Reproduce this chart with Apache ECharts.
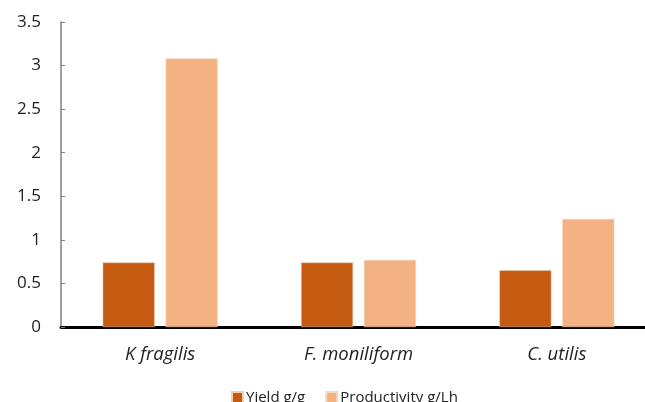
<!DOCTYPE html>
<html><head><meta charset="utf-8">
<script src="https://cdn.jsdelivr.net/npm/echarts@6/dist/echarts.min.js"></script>
<style>html,body{margin:0;padding:0;background:#fff}#c{width:645px;height:402px}</style>
</head><body><div id="c"></div>
<script>
const categories = ['K fragilis', 'F. moniliform', 'C. utilis'];
const yieldValues = [0.74, 0.74, 0.65];
const productivityValues = [3.08, 0.77, 1.24];
const seriesNames = ['Yield g/g', 'Productivity g/Lh'];
const font = "'Open Sans', 'Noto Sans', sans-serif";
const chart = echarts.init(document.getElementById('c'));
chart.setOption({
  animation: false,
  textStyle: { fontFamily: font },
  grid: { left: 61, top: 22, width: 595, height: 305, containLabel: false, outerBoundsMode: 'none' },
  legend: {
    top: 385, left: 226, itemWidth: 11, itemHeight: 11, itemGap: 20,
    icon: 'rect',
    textStyle: { fontSize: 15, color: '#222', fontFamily: font, padding: [0, 0, 0, -2] },
    data: seriesNames
  },
  xAxis: {
    type: 'category', data: categories,
    axisLine: { lineStyle: { color: '#000', width: 3 } },
    axisTick: { show: false },
    axisLabel: { fontSize: 18.5, fontStyle: 'italic', color: '#222', margin: 18 }
  },
  yAxis: {
    type: 'value', min: 0, max: 3.5, interval: 0.5,
    splitLine: { show: false },
    axisLine: { show: true, lineStyle: { color: '#808080', width: 1.5 } },
    axisTick: { show: true, inside: true, length: 4, lineStyle: { color: '#808080' } },
    axisLabel: { fontSize: 17, color: '#222', margin: 20 }
  },
  series: [
    { name: seriesNames[0], type: 'bar', data: yieldValues, barWidth: 52, barGap: '21%',
      itemStyle: { color: '#C55A11', borderColor: '#F4CCAE', borderWidth: 0.5 } },
    { name: seriesNames[1], type: 'bar', data: productivityValues, barWidth: 52,
      itemStyle: { color: '#F4B183', borderColor: '#F8D5BC', borderWidth: 0.5 } }
  ]
});
</script></body></html>
